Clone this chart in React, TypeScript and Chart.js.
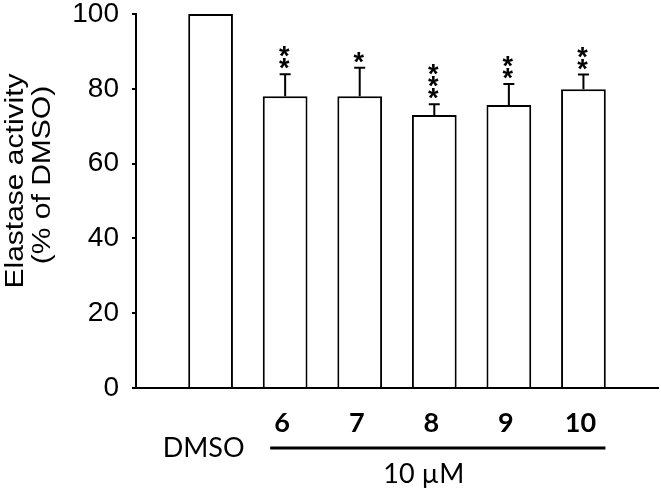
import React, { useEffect, useRef } from 'react';
import { Chart, registerables } from 'chart.js';

Chart.register(...registerables);

// ---- data ----
const categories = ['DMSO', '6', '7', '8', '9', '10'];
const activity = [100, 78, 78, 73, 75.7, 79.9];
const sem = [0, 5.9, 7.6, 2.9, 5.6, 3.9];
const significance = ['', '**', '*', '***', '**', '**'];
const yTicks = [0, 20, 40, 60, 80, 100];
const yTitle = ['Elastase activity', '(% of DMSO)'];
const groupLabel = '10 µM';

const W = 661;
const H = 493;

const labels = ['', ...categories, ''];
const values: (number | null)[] = [null, ...activity, null];

const errorBarPlugin = {
  id: 'errorBars',
  afterDatasetsDraw(chart: any) {
    const ctx = chart.ctx as CanvasRenderingContext2D;
    const meta = chart.getDatasetMeta(0);
    const yScale = chart.scales.y;
    ctx.save();
    ctx.strokeStyle = '#000';
    ctx.fillStyle = '#000';
    ctx.lineWidth = 2;
    ctx.lineCap = 'butt';
    meta.data.forEach((bar: any, idx: number) => {
      const i = idx - 1;
      if (i < 0 || i >= activity.length) return;
      const x = bar.x;
      let topY = bar.y;
      if (sem[i] > 0) {
        topY = yScale.getPixelForValue(activity[i] + sem[i]);
        ctx.beginPath();
        ctx.moveTo(x, bar.y);
        ctx.lineTo(x, topY);
        ctx.moveTo(x - 5.5, topY);
        ctx.lineTo(x + 5.5, topY);
        ctx.stroke();
      }
      const stars = significance[i];
      if (stars) {
        ctx.font = 'bold 27px "Liberation Sans", Arial, sans-serif';
        ctx.textAlign = 'center';
        ctx.textBaseline = 'alphabetic';
        const m = ctx.measureText('*');
        const asc = m.actualBoundingBoxAscent;
        const desc = m.actualBoundingBoxDescent;
        for (let k = 0; k < stars.length; k++) {
          const cy = topY - 10.5 - k * 12;
          const by = cy - (desc - asc) / 2;
          ctx.fillText('*', x - 1, by);
        }
      }
    });
    ctx.restore();
  },
};

const labelPlugin = {
  id: 'customLabels',
  afterDraw(chart: any) {
    const ctx = chart.ctx as CanvasRenderingContext2D;
    const xScale = chart.scales.x;
    ctx.save();
    ctx.fillStyle = '#000';
    ctx.strokeStyle = '#000';

    // y-axis title (two rotated lines)
    ctx.font = '25px "Liberation Sans", Arial, sans-serif';
    ctx.textAlign = 'center';
    ctx.textBaseline = 'alphabetic';
    const titlePos = [
      { bx: 23, cy: 181 },
      { bx: 50, cy: 175 },
    ];
    yTitle.forEach((t, k) => {
      ctx.save();
      ctx.translate(titlePos[k].bx, titlePos[k].cy);
      ctx.rotate(-Math.PI / 2);
      ctx.scale(1.2, 1);
      ctx.fillText(t, 0, 0);
      ctx.restore();
    });

    // category labels
    ctx.textBaseline = 'middle';
    categories.forEach((c, i) => {
      const px = xScale.getPixelForValue(i + 1);
      if (i === 0) {
        ctx.font = '27px Lato, sans-serif';
        ctx.fillText(c, px - 7, 448);
      } else {
        ctx.font = 'bold 27px Lato, sans-serif';
        ctx.fillText(c, px - 3, 423);
      }
    });

    // group bracket line
    const x1 = xScale.getPixelForValue(2) - 15;
    const x2 = xScale.getPixelForValue(categories.length) + 22;
    ctx.lineWidth = 3;
    ctx.beginPath();
    ctx.moveTo(x1, 448);
    ctx.lineTo(x2, 448);
    ctx.stroke();

    // group label
    ctx.font = '27px Lato, sans-serif';
    ctx.textAlign = 'center';
    ctx.fillText(groupLabel, (x1 + x2) / 2 - 14, 474);

    ctx.restore();
  },
};

export default function App() {
  const ref = useRef<HTMLCanvasElement | null>(null);

  useEffect(() => {
    if (!ref.current) return;
    const chart = new Chart(ref.current, {
      type: 'bar',
      data: {
        labels,
        datasets: [
          {
            data: values,
            backgroundColor: '#ffffff',
            borderColor: '#000000',
            borderWidth: 2,
            borderSkipped: 'start',
            barPercentage: 0.6,
            categoryPercentage: 1,
          },
        ],
      },
      options: {
        animation: false,
        responsive: false,
        maintainAspectRatio: false,
        layout: { autoPadding: false, padding: { top: 14, right: 3, left: 0, bottom: 0 } },
        plugins: {
          legend: { display: false },
          tooltip: { enabled: false },
          title: { display: false },
        },
        scales: {
          x: {
            type: 'category',
            offset: false,
            grid: { display: false },
            ticks: { display: false },
            border: { display: true, color: '#000', width: 2 },
            afterFit(scale: any) {
              scale.height = 105;
            },
          },
          y: {
            min: 0,
            max: 100,
            afterBuildTicks(scale: any) {
              scale.ticks = yTicks.map((v) => ({ value: v }));
            },
            afterFit(scale: any) {
              scale.width = 136;
              scale.paddingTop = 0;
              scale.paddingBottom = 0;
            },
            grid: {
              drawOnChartArea: false,
              drawTicks: true,
              tickLength: 4,
              color: '#000',
              lineWidth: 2,
            },
            border: { display: true, color: '#000', width: 2 },
            ticks: {
              color: '#000',
              padding: 13,
              font: { family: '"Liberation Sans", Arial, sans-serif', size: 28, lineHeight: 1 },
            },
          },
        },
      },
      plugins: [errorBarPlugin, labelPlugin],
    });
    return () => chart.destroy();
  }, []);

  return (
    <div style={{ position: 'fixed', left: 0, top: 0, width: W, height: H, background: '#fff' }}>
      <canvas ref={ref} width={W} height={H} style={{ width: W, height: H, display: 'block' }} />
    </div>
  );
}
